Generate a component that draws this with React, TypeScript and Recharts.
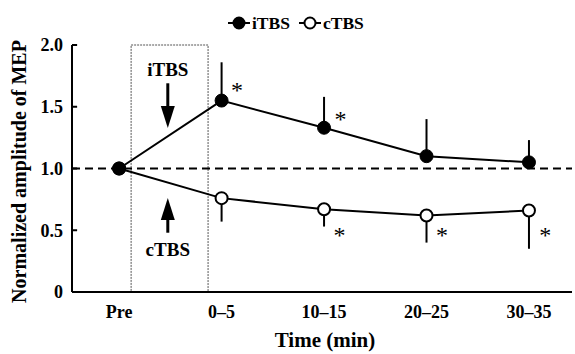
import React from 'react';
import { LineChart, Line, XAxis, YAxis, ErrorBar, ReferenceLine, ReferenceArea, ReferenceDot } from 'recharts';

const categories = ['Pre', '0\u20135', '10\u201315', '20\u201325', '30\u201335'];
const itbsValues = [1.0, 1.55, 1.33, 1.1, 1.05];
const itbsUpperErr = [0, 0.31, 0.25, 0.3, 0.18];
const ctbsValues = [1.0, 0.76, 0.67, 0.62, 0.66];
const ctbsLowerErr = [0, 0.19, 0.14, 0.22, 0.31];
const yTicks = [0, 0.5, 1, 1.5, 2];
const asterisks = [
  { x: 1.15, y: 1.67 },
  { x: 2.16, y: 1.43 },
  { x: 2.15, y: 0.49 },
  { x: 3.15, y: 0.49 },
  { x: 4.16, y: 0.49 },
];

const data = categories.map((c, i) => ({
  x: i,
  name: c,
  itbs: itbsValues[i],
  ctbs: ctbsValues[i],
  itbsE: [0, itbsUpperErr[i]],
  ctbsE: [ctbsLowerErr[i], 0],
}));

const FONT = '"Liberation Serif", "Times New Roman", serif';
const X_MIN = -0.46;
const X_MAX = 4.42;

const Asterisk = (props: any) => (
  <text x={props.cx} y={props.cy + 12} textAnchor="middle" fontSize={24} fontFamily={FONT} fill="#000">
    *
  </text>
);

const HeadDown = (props: any) => (
  <path d={`M${props.cx},${props.cy} L${props.cx - 7},${props.cy - 22} L${props.cx + 7},${props.cy - 22} Z`} fill="#000" />
);
const HeadUp = (props: any) => (
  <path d={`M${props.cx},${props.cy} L${props.cx - 7},${props.cy + 22} L${props.cx + 7},${props.cy + 22} Z`} fill="#000" />
);
const BoxText = (label: string) => (props: any) => (
  <text x={props.cx} y={props.cy + 6} textAnchor="middle" fontSize={19} fontWeight="bold" fontFamily={FONT} fill="#000">
    {label}
  </text>
);

const YLabel = (props: any) => {
  const vb = props.viewBox || {};
  const cx = 26;
  const cy = (vb.y ?? 45) + (vb.height ?? 247) / 2 + 3;
  return (
    <text x={cx} y={cy} transform={`rotate(-90 ${cx} ${cy})`} textAnchor="middle" fontSize={20} fontWeight="bold" fontFamily={FONT} fill="#000">
      Normalized amplitude of MEP
    </text>
  );
};

const XLabel = (props: any) => {
  const vb = props.viewBox || {};
  const cx = (vb.x ?? 72) + (vb.width ?? 500) / 2 + 3;
  return (
    <text x={cx} y={347} textAnchor="middle" fontSize={21} fontWeight="bold" fontFamily={FONT} fill="#000">
      Time (min)
    </text>
  );
};

const LegendItem = ({ filled, label }: { filled: boolean; label: string }) => (
  <span style={{ display: 'inline-flex', alignItems: 'center', marginRight: 9 }}>
    <svg width={22} height={14} style={{ display: 'block' }}>
      <line x1={0} y1={7} x2={22} y2={7} stroke="#000" strokeWidth={2} />
      <circle cx={11} cy={7} r={5.5} fill={filled ? '#000' : '#fff'} stroke="#000" strokeWidth={2} />
    </svg>
    <span style={{ marginLeft: 2 }}>{label}</span>
  </span>
);

export default function App() {
  return (
    <div style={{ position: 'absolute', left: 0, top: 0, width: 575, height: 354, background: '#fff' }}>
      <div
        style={{
          position: 'absolute',
          left: 228,
          top: 13,
          display: 'flex',
          alignItems: 'center',
          fontFamily: FONT,
          fontWeight: 'bold',
          fontSize: 17.5,
          color: '#000',
          lineHeight: '20px',
        }}
      >
        <LegendItem filled label="iTBS" />
        <LegendItem filled={false} label="cTBS" />
      </div>
      <LineChart width={575} height={354} data={data} margin={{ top: 45, right: 3, bottom: 0, left: 0 }}>
        <ReferenceArea x1={0.117} x2={0.868} y1={0} y2={2} fill="none" stroke="#555" strokeWidth={1} strokeDasharray="2 1" />
        <XAxis
          dataKey="x"
          type="number"
          domain={[X_MIN, X_MAX]}
          ticks={[0, 1, 2, 3, 4]}
          tickFormatter={(v: number) => categories[v]}
          allowDataOverflow
          interval={0}
          height={62}
          tickLine={false}
          tickSize={6}
          tickMargin={7}
          axisLine={{ stroke: '#000', strokeWidth: 2 }}
          tick={{ fill: '#000', fontSize: 18, fontWeight: 'bold', fontFamily: FONT }}
          label={<XLabel />}
        />
        <YAxis
          type="number"
          domain={[0, 2]}
          ticks={yTicks}
          tickFormatter={(v: number) => (v === 0 ? '0' : v.toFixed(1))}
          width={72}
          tickLine={false}
          tickSize={6}
          tickMargin={3}
          axisLine={{ stroke: '#000', strokeWidth: 2 }}
          tick={{ fill: '#000', fontSize: 18, fontWeight: 'bold', fontFamily: FONT }}
          label={<YLabel />}
        />
        {yTicks.map((t) => (
          <ReferenceLine
            key={'t' + t}
            segment={[
              { x: X_MIN, y: t },
              { x: X_MIN + 0.05, y: t },
            ]}
            stroke="#000"
            strokeWidth={2}
          />
        ))}
        <ReferenceLine y={1} stroke="#000" strokeWidth={2} strokeDasharray="8 5" />
        <ReferenceLine segment={[{ x: 0.475, y: 1.69 }, { x: 0.475, y: 1.47 }]} stroke="#000" strokeWidth={3} />
        <ReferenceDot x={0.475} y={1.328} r={0} shape={HeadDown} />
        <ReferenceLine segment={[{ x: 0.475, y: 0.48 }, { x: 0.475, y: 0.68 }]} stroke="#000" strokeWidth={3} />
        <ReferenceDot x={0.475} y={0.761} r={0} shape={HeadUp} />
        <ReferenceDot x={0.475} y={1.8} r={0} shape={BoxText('iTBS')} />
        <ReferenceDot x={0.475} y={0.34} r={0} shape={BoxText('cTBS')} />
        {asterisks.map((a, i) => (
          <ReferenceDot key={'a' + i} x={a.x} y={a.y} r={0} shape={Asterisk} />
        ))}
        <Line
          dataKey="ctbs"
          stroke="#000"
          strokeWidth={2}
          dot={{ r: 6, fill: '#fff', stroke: '#000', strokeWidth: 2 }}
          isAnimationActive={false}
        >
          <ErrorBar dataKey="ctbsE" width={0} stroke="#000" strokeWidth={2} direction="y" />
        </Line>
        <Line
          dataKey="itbs"
          stroke="#000"
          strokeWidth={2}
          dot={{ r: 6.5, fill: '#000', stroke: '#000', strokeWidth: 1 }}
          isAnimationActive={false}
        >
          <ErrorBar dataKey="itbsE" width={0} stroke="#000" strokeWidth={2} direction="y" />
        </Line>
      </LineChart>
    </div>
  );
}
